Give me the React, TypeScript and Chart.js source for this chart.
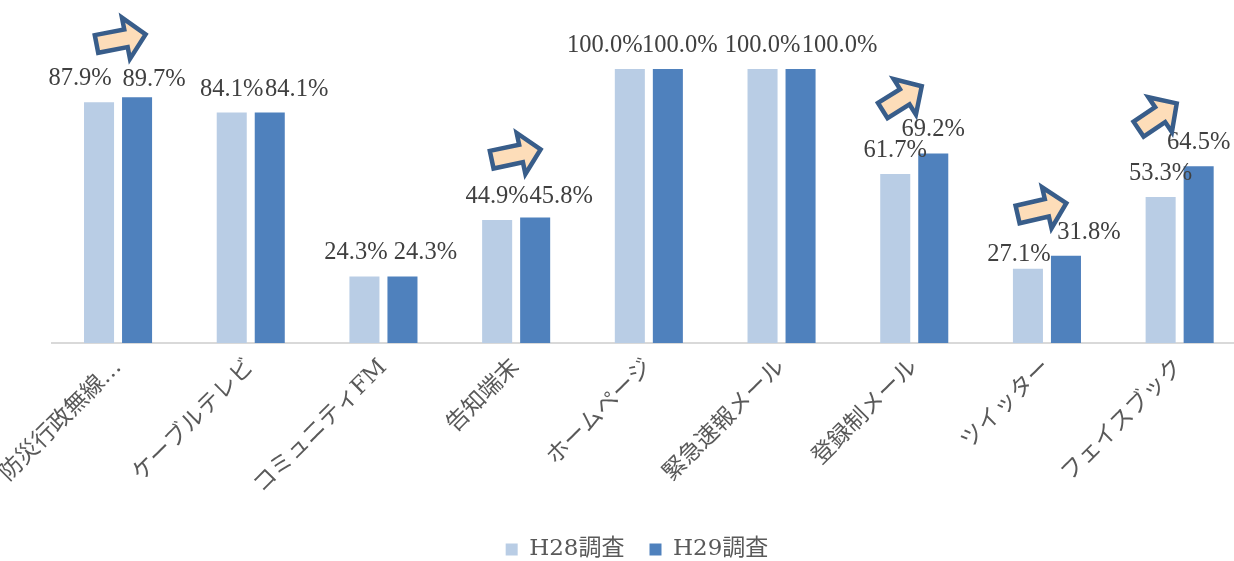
import React, { useEffect, useRef } from 'react';
import { Chart, registerables } from 'chart.js';

Chart.register(...registerables);

// ---- data ----
const categories = [
  '防災行政無線…',
  'ケーブルテレビ',
  'コミュニティFM',
  '告知端末',
  'ホームページ',
  '緊急速報メール',
  '登録制メール',
  'ツイッター',
  'フェイスブック',
];
const seriesNames = ['H28調査', 'H29調査'];
const h28Values = [87.9, 84.1, 24.3, 44.9, 100.0, 100.0, 61.7, 27.1, 53.3];
const h29Values = [89.7, 84.1, 24.3, 45.8, 100.0, 100.0, 69.2, 31.8, 64.5];
// categories marked with an "increase" arrow
const arrowCategories = [0, 3, 6, 7, 8];

// ---- layout / style (not data) ----
const labelShiftX = [
  [-19, 0, -8.5, 0, -25, 0, 0, -9, 0],
  [17, 27, 23, 26, 12, 39, 0, 23, 0],
];
const labelShiftY = [
  [0, 0, 0, 0, 0, 0, 0, 9, 0],
  [6, 0, 0, 2.5, 0, 0, 0, 0, 0],
];
const arrowShape = [
  { dx: 3, dy: -58, angle: -11, len: 50 },
  { dx: 0, dy: -63, angle: -12, len: 50 },
  { dx: -12, dy: -55, angle: -32, len: 46 },
  { dx: -5, dy: -47, angle: -13, len: 50 },
  { dx: -22, dy: -50, angle: -34, len: 46 },
];

const COLORS = ['#B9CDE5', '#4F81BD'];
const SERIF = "'Liberation Serif', 'Noto Sans CJK JP', serif";
const LEGEND_FONT = "'DejaVu Serif', 'Noto Sans CJK JP', serif";
const CANVAS_W = 1246;
const VIEW_W = 1234;
const H = 561;

function drawArrow(ctx: CanvasRenderingContext2D, cx: number, cy: number, angleDeg: number, len: number) {
  const half = len / 2;
  const t = 9;
  const w = 21;
  const h = 20;
  ctx.save();
  ctx.translate(cx, cy);
  ctx.rotate((angleDeg * Math.PI) / 180);
  ctx.beginPath();
  ctx.moveTo(-half, -t);
  ctx.lineTo(half - h, -t);
  ctx.lineTo(half - h, -w);
  ctx.lineTo(half, 0);
  ctx.lineTo(half - h, w);
  ctx.lineTo(half - h, t);
  ctx.lineTo(-half, t);
  ctx.closePath();
  ctx.fillStyle = '#FDDDB9';
  ctx.fill();
  ctx.lineWidth = 4.5;
  ctx.lineJoin = 'miter';
  ctx.strokeStyle = '#385D8A';
  ctx.stroke();
  ctx.restore();
}

const annotationPlugin = {
  id: 'annotations',
  afterDatasetsDraw(chart: any) {
    const ctx: CanvasRenderingContext2D = chart.ctx;
    ctx.save();
    ctx.font = `24.5px ${SERIF}`;
    ctx.fillStyle = '#404040';
    ctx.textAlign = 'center';
    ctx.textBaseline = 'alphabetic';
    chart.data.datasets.forEach((ds: any, di: number) => {
      const meta = chart.getDatasetMeta(di);
      meta.data.forEach((bar: any, i: number) => {
        const v = ds.data[i] as number;
        ctx.fillText(v.toFixed(1) + '%', bar.x + labelShiftX[di][i], bar.y - 17 + labelShiftY[di][i]);
      });
    });
    ctx.restore();

    const xScale = chart.scales.x;
    const meta1 = chart.getDatasetMeta(1);
    arrowCategories.forEach((ci, k) => {
      const s = arrowShape[k];
      const x = xScale.getPixelForValue(ci) + s.dx;
      const y = meta1.data[ci].y + s.dy;
      drawArrow(ctx, x, y, s.angle, s.len);
    });
  },
};

export default function App() {
  const canvasRef = useRef<HTMLCanvasElement | null>(null);

  useEffect(() => {
    document.body.style.margin = '0';
    document.body.style.overflow = 'hidden';
    const canvas = canvasRef.current;
    if (!canvas) return;
    const chart = new Chart(canvas, {
      type: 'bar',
      data: {
        labels: categories,
        datasets: [
          {
            label: seriesNames[0],
            data: h28Values,
            backgroundColor: COLORS[0],
            categoryPercentage: 0.573,
            barPercentage: 0.79,
          },
          {
            label: seriesNames[1],
            data: h29Values,
            backgroundColor: COLORS[1],
            categoryPercentage: 0.573,
            barPercentage: 0.79,
          },
        ],
      },
      options: {
        responsive: false,
        animation: false,
        events: [],
        layout: {
          padding: { left: 28, right: 0, top: 69, bottom: -10 },
        },
        plugins: {
          tooltip: { enabled: false },
          legend: {
            position: 'bottom',
            labels: {
              boxWidth: 12,
              boxHeight: 12,
              padding: 25,
              color: '#595959',
              font: { family: LEGEND_FONT, size: 23 },
            },
          },
        },
        scales: {
          x: {
            grid: { display: false, drawTicks: false },
            border: { display: true, color: '#D9D9D9', width: 2 },
            ticks: {
              minRotation: 45,
              maxRotation: 45,
              autoSkip: false,
              padding: 11,
              color: '#595959',
              font: { family: LEGEND_FONT, size: 23 },
            },
            afterFit: (scale: any) => {
              scale.height = 170;
              scale.paddingLeft = 0;
              scale.paddingRight = 0;
            },
          },
          y: {
            min: 0,
            max: 100,
            display: true,
            grid: { display: false, drawTicks: false },
            border: { display: false },
            ticks: { display: false },
            afterFit: (scale: any) => {
              scale.width = 23.7;
              scale.paddingTop = 0;
              scale.paddingBottom = 0;
            },
          },
        },
      },
      plugins: [annotationPlugin],
    });
    return () => chart.destroy();
  }, []);

  return (
    <div style={{ width: VIEW_W, height: H, overflow: 'hidden' }}>
      <canvas ref={canvasRef} width={CANVAS_W} height={H} style={{ display: 'block' }} />
    </div>
  );
}
